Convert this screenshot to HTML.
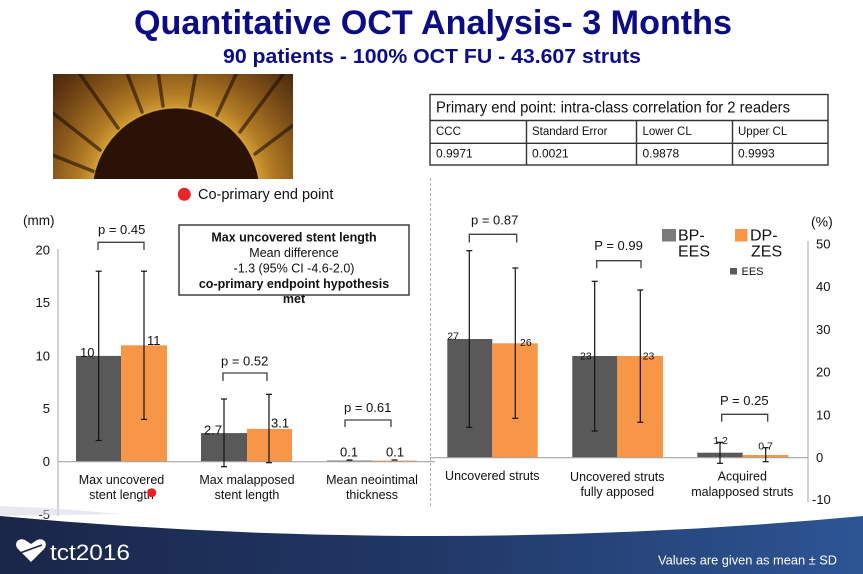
<!DOCTYPE html>
<html>
<head>
<meta charset="utf-8">
<style>
  html,body{margin:0;padding:0;background:#fff;}
  svg{display:block;}
  text{font-family:"Liberation Sans", Arial, sans-serif;}
</style>
</head>
<body>
<svg width="863" height="574" viewBox="0 0 863 574" xmlns="http://www.w3.org/2000/svg">
  <defs>
    <radialGradient id="oct" gradientUnits="userSpaceOnUse" cx="176" cy="192" r="190">
      <stop offset="0.44" stop-color="#d09a35"/>
      <stop offset="0.52" stop-color="#b07a24"/>
      <stop offset="0.66" stop-color="#86561a"/>
      <stop offset="0.82" stop-color="#5a3310"/>
      <stop offset="1" stop-color="#2e1706"/>
    </radialGradient>
    <clipPath id="octclip"><rect x="53" y="74" width="240" height="105"/></clipPath>
    <linearGradient id="foot" x1="0" y1="0" x2="1" y2="0">
      <stop offset="0" stop-color="#1a2649"/>
      <stop offset="0.5" stop-color="#213867"/>
      <stop offset="1" stop-color="#2d5594"/>
    </linearGradient>
  </defs>

  <rect x="0" y="0" width="863" height="574" fill="#ffffff"/>

  <!-- Title -->
  <text x="134" y="34" font-size="34" font-weight="bold" fill="#0c0c86" textLength="598" lengthAdjust="spacingAndGlyphs">Quantitative OCT Analysis- 3 Months</text>
  <text x="223" y="63" font-size="20" font-weight="bold" fill="#0c0c86" textLength="418" lengthAdjust="spacingAndGlyphs">90 patients - 100% OCT FU - 43.607 struts</text>

  <!-- OCT image -->
  <g clip-path="url(#octclip)">
    <rect x="53" y="74" width="240" height="105" fill="#2e1706"/>
    <rect x="53" y="74" width="240" height="105" fill="url(#oct)"/>
    <g stroke="#1e0d03" stroke-width="3.5" stroke-linecap="round" opacity="0.6">
      <line x1="100" y1="150" x2="30" y2="95"/>
      <line x1="118" y1="128" x2="70" y2="60"/>
      <line x1="142" y1="112" x2="120" y2="55"/>
      <line x1="163" y1="106" x2="155" y2="50"/>
      <line x1="190" y1="106" x2="200" y2="50"/>
      <line x1="217" y1="115" x2="245" y2="55"/>
      <line x1="240" y1="132" x2="290" y2="65"/>
      <line x1="255" y1="154" x2="320" y2="105"/>
      <line x1="95" y1="172" x2="40" y2="150"/>
    </g>
    <ellipse cx="176" cy="194" rx="84" ry="86" fill="#2a1206"/>
    <ellipse cx="176" cy="194" rx="84" ry="86" fill="none" stroke="#f0c060" stroke-width="1.2" opacity="0.5"/>
  </g>

  <!-- Co-primary legend -->
  <circle cx="184.3" cy="194.3" r="6.5" fill="#e8262a"/>
  <text x="198" y="199" font-size="14.5" fill="#111">Co-primary end point</text>

  <!-- Table -->
  <g fill="none" stroke="#333" stroke-width="1.4">
    <rect x="430" y="94.5" width="398" height="70.5" fill="#fff"/>
    <line x1="430" y1="120.5" x2="828" y2="120.5"/>
    <line x1="430" y1="143.3" x2="828" y2="143.3"/>
    <line x1="526.5" y1="120.5" x2="526.5" y2="165"/>
    <line x1="636.5" y1="120.5" x2="636.5" y2="165"/>
    <line x1="732.5" y1="120.5" x2="732.5" y2="165"/>
  </g>
  <text x="436" y="112.5" font-size="15.5" fill="#111" textLength="354" lengthAdjust="spacingAndGlyphs">Primary end point: intra-class correlation for 2 readers</text>
  <g font-size="11.5" fill="#111">
    <text x="436" y="135">CCC</text>
    <text x="532" y="135">Standard Error</text>
    <text x="642.5" y="135">Lower CL</text>
    <text x="738" y="135">Upper CL</text>
  </g>
  <g font-size="12" fill="#111">
    <text x="436" y="157.5">0.9971</text>
    <text x="532" y="157.5">0.0021</text>
    <text x="642.5" y="157.5">0.9878</text>
    <text x="738" y="157.5">0.9993</text>
  </g>

  <!-- Dashed separator -->
  <line x1="430.5" y1="178" x2="430.5" y2="508" stroke="#b0b0b0" stroke-width="1" stroke-dasharray="3,2"/>

  <!-- LEFT CHART -->
  <text x="23" y="225" font-size="13.5" fill="#111">(mm)</text>
  <line x1="58" y1="249" x2="58" y2="516" stroke="#a6a6a6" stroke-width="1"/>
  <g font-size="13" fill="#111" text-anchor="end">
    <text x="50" y="254.5">20</text>
    <text x="50" y="307">15</text>
    <text x="50" y="360.5">10</text>
    <text x="50" y="413">5</text>
    <text x="50" y="466">0</text>
    <text x="50" y="519">-5</text>
  </g>

  <!-- left bars -->
  <rect x="76" y="355.9" width="45" height="105.8" fill="#595959"/>
  <rect x="121" y="345.3" width="46" height="116.4" fill="#f79646"/>
  <rect x="201" y="433.1" width="46" height="28.6" fill="#595959"/>
  <rect x="247" y="428.9" width="45" height="32.8" fill="#f79646"/>
  <rect x="327" y="460.6" width="45" height="1.2" fill="#595959"/>
  <rect x="372" y="460.6" width="45" height="1.2" fill="#f79646"/>
  <line x1="58" y1="461.7" x2="435" y2="461.7" stroke="#a6a6a6" stroke-width="1.2"/>

  <!-- left error bars -->
  <g stroke="#111" stroke-width="1.2">
    <line x1="98.7" y1="271.2" x2="98.7" y2="440.5"/>
    <line x1="95.7" y1="271.2" x2="101.7" y2="271.2"/>
    <line x1="95.7" y1="440.5" x2="101.7" y2="440.5"/>
    <line x1="144" y1="271.2" x2="144" y2="419.4"/>
    <line x1="141" y1="271.2" x2="147" y2="271.2"/>
    <line x1="141" y1="419.4" x2="147" y2="419.4"/>
    <line x1="224" y1="399" x2="224" y2="466.7"/>
    <line x1="221" y1="399" x2="227" y2="399"/>
    <line x1="221" y1="466.7" x2="227" y2="466.7"/>
    <line x1="269" y1="394.3" x2="269" y2="462.7"/>
    <line x1="266" y1="394.3" x2="272" y2="394.3"/>
    <line x1="266" y1="462.7" x2="272" y2="462.7"/>
    <line x1="346.5" y1="460" x2="352.5" y2="460"/>
    <line x1="391.5" y1="460" x2="397.5" y2="460"/>
  </g>

  <!-- left value labels -->
  <g font-size="13" fill="#111">
    <text x="80" y="357">10</text>
    <text x="147" y="345">11</text>
    <text x="204" y="434.5">2.7</text>
    <text x="271" y="427.5">3.1</text>
    <text x="340" y="456.5">0.1</text>
    <text x="386" y="456.5">0.1</text>
  </g>

  <!-- left p-values -->
  <g font-size="13" fill="#111">
    <text x="98" y="234">p = 0.45</text>
    <text x="221" y="365.5">p = 0.52</text>
    <text x="344" y="412">p = 0.61</text>
  </g>
  <g fill="none" stroke="#404040" stroke-width="1.3">
    <polyline points="98,250 98,242.3 144,242.3 144,250"/>
    <polyline points="223,381 223,373 267,373 267,381"/>
    <polyline points="345,427 345,420 391,420 391,427"/>
  </g>

  <!-- left category labels -->
  <g font-size="12.5" fill="#111" text-anchor="middle">
    <text x="121.5" y="484">Max uncovered</text>
    <text x="121.5" y="499">stent length</text>
    <text x="247" y="484">Max malapposed</text>
    <text x="247" y="499">stent length</text>
    <text x="372" y="484">Mean neointimal</text>
    <text x="372" y="499">thickness</text>
  </g>
  <circle cx="151.7" cy="492.7" r="4.5" fill="#ee1c25"/>

  <!-- annotation box -->
  <rect x="179" y="225" width="230" height="70" fill="#fff" stroke="#222" stroke-width="1.3"/>
  <g font-size="12.5" fill="#111" text-anchor="middle">
    <text x="294" y="241.5" font-weight="bold">Max uncovered stent length</text>
    <text x="294" y="257">Mean difference</text>
    <text x="294" y="272.5">-1.3 (95% CI -4.6-2.0)</text>
    <text x="294" y="288" font-weight="bold">co-primary endpoint hypothesis</text>
    <text x="294" y="303" font-weight="bold">met</text>
  </g>

  <!-- RIGHT CHART -->
  <rect x="447.3" y="339" width="45" height="118.7" fill="#595959"/>
  <rect x="492.3" y="343.3" width="45.4" height="114.4" fill="#f79646"/>
  <rect x="572.3" y="356" width="45" height="101.7" fill="#595959"/>
  <rect x="617.3" y="356" width="45.7" height="101.7" fill="#f79646"/>
  <rect x="697.3" y="452.7" width="45.4" height="5" fill="#595959"/>
  <rect x="742.7" y="455" width="45.6" height="2.7" fill="#f79646"/>
  <line x1="430" y1="457.7" x2="808" y2="457.7" stroke="#a6a6a6" stroke-width="1.2"/>
  <line x1="808" y1="241" x2="808" y2="502" stroke="#a6a6a6" stroke-width="1"/>

  <g stroke="#111" stroke-width="1.2">
    <line x1="469.3" y1="250.7" x2="469.3" y2="427.3"/>
    <line x1="466.3" y1="250.7" x2="472.3" y2="250.7"/>
    <line x1="466.3" y1="427.3" x2="472.3" y2="427.3"/>
    <line x1="515.3" y1="268" x2="515.3" y2="418.3"/>
    <line x1="512.3" y1="268" x2="518.3" y2="268"/>
    <line x1="512.3" y1="418.3" x2="518.3" y2="418.3"/>
    <line x1="594.7" y1="281.3" x2="594.7" y2="431"/>
    <line x1="591.7" y1="281.3" x2="597.7" y2="281.3"/>
    <line x1="591.7" y1="431" x2="597.7" y2="431"/>
    <line x1="640.3" y1="290" x2="640.3" y2="422.3"/>
    <line x1="637.3" y1="290" x2="643.3" y2="290"/>
    <line x1="637.3" y1="422.3" x2="643.3" y2="422.3"/>
    <line x1="720" y1="442.3" x2="720" y2="463.3"/>
    <line x1="717" y1="442.3" x2="723" y2="442.3"/>
    <line x1="717" y1="463.3" x2="723" y2="463.3"/>
    <line x1="765.7" y1="447.7" x2="765.7" y2="461.7"/>
    <line x1="762.7" y1="447.7" x2="768.7" y2="447.7"/>
    <line x1="762.7" y1="461.7" x2="768.7" y2="461.7"/>
  </g>

  <g font-size="10.5" fill="#111">
    <text x="447.3" y="339.5">27</text>
    <text x="520" y="346">26</text>
    <text x="580" y="359.5">23</text>
    <text x="642.7" y="359.5">23</text>
    <text x="713.3" y="444">1.2</text>
    <text x="758.3" y="449.5">0.7</text>
  </g>

  <g font-size="13" fill="#111">
    <text x="471" y="224.3">p = 0.87</text>
    <text x="594.3" y="250">P = 0.99</text>
    <text x="720" y="405">P = 0.25</text>
  </g>
  <g fill="none" stroke="#404040" stroke-width="1.3">
    <polyline points="469.3,242.5 469.3,234.3 516.7,234.3 516.7,242.5"/>
    <polyline points="596.7,268.3 596.7,260.7 641,260.7 641,268.3"/>
    <polyline points="721.7,421.7 721.7,414.3 767.7,414.3 767.7,421.7"/>
  </g>

  <g font-size="12.5" fill="#111" text-anchor="middle">
    <text x="492.3" y="480">Uncovered struts</text>
    <text x="617.3" y="481">Uncovered struts</text>
    <text x="617.3" y="496">fully apposed</text>
    <text x="742.3" y="480.5">Acquired</text>
    <text x="742.3" y="496">malapposed struts</text>
  </g>

  <text x="811" y="226.5" font-size="14" fill="#111">(%)</text>
  <g font-size="13" fill="#111">
    <text x="816" y="248.5">50</text>
    <text x="816" y="291">40</text>
    <text x="816" y="334">30</text>
    <text x="816" y="376.5">20</text>
    <text x="816" y="419.5">10</text>
    <text x="816" y="462">0</text>
    <text x="812" y="504">-10</text>
  </g>

  <!-- Legend -->
  <rect x="662" y="229" width="14" height="12.5" fill="#7a7a7a"/>
  <text x="678" y="240.7" font-size="16" fill="#111">BP-</text>
  <text x="678" y="256.7" font-size="16" fill="#111">EES</text>
  <rect x="735" y="229" width="12.5" height="12.5" fill="#f79646"/>
  <text x="750" y="240.7" font-size="16" fill="#111">DP-</text>
  <text x="751" y="256.7" font-size="16" fill="#111">ZES</text>
  <rect x="730" y="268" width="7" height="6.5" fill="#595959"/>
  <text x="741.5" y="275" font-size="11" fill="#111">EES</text>

  <!-- Footer -->
  <path d="M0,506 Q60,508 120,514 L0,516 Z" fill="#d8dbe2" opacity="0.6"/>
  <path d="M0,516 Q431.5,556 863,516 L863,574 L0,574 Z" fill="url(#foot)"/>
  <path d="M31,562 L18,549 C13,543 19,537 25,540 L31,544 L37,540 C43,537 49,543 44,549 Z" fill="#ffffff"/>
  <line x1="20" y1="553" x2="42" y2="545" stroke="#1a2649" stroke-width="1.6"/>
  <text x="50" y="560" font-size="22" fill="#ffffff" textLength="80" lengthAdjust="spacingAndGlyphs">tct2016</text>
  <text x="658" y="564.5" font-size="13" fill="#ffffff" textLength="179" lengthAdjust="spacingAndGlyphs">Values are given as mean ± SD</text>
</svg>
</body>
</html>
